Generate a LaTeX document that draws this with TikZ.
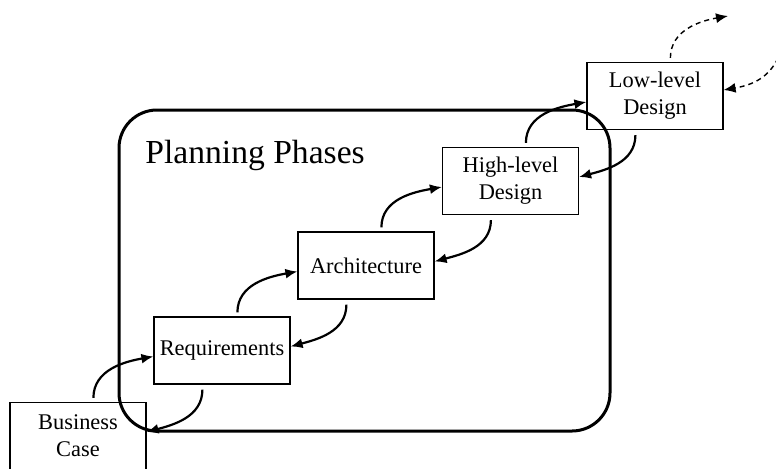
\documentclass[tikz,border=0pt]{standalone}
\usepackage{fontspec}
\setmainfont{Liberation Serif}
\usetikzlibrary{arrows.meta}

\begin{document}
\begin{tikzpicture}[x=0.5pt, y=-0.5pt,
    phase/.style={draw, line width=0.6pt, minimum width=68pt, minimum height=33.5pt,
      inner sep=0pt, align=center, font=\fontsize{11.2}{13.5}\selectfont},
    link/.style={->, line width=1.1pt},
    future/.style={->, line width=0.7pt, dash pattern=on 2.5pt off 2pt},
    >={Latex[length=6pt, width=5pt]}]
  \useasboundingbox (0,0) rectangle (776,468);

  % Planning frame
  \draw[line width=1.5pt, rounded corners=19pt] (119,110) rectangle (610,431);
  \node[anchor=base west, inner sep=0pt, font=\fontsize{16.8}{20}\selectfont] (title) at (145,163) {Planning Phases};

  % Phase boxes
  \node[phase] (bc) at (78,436) {Business\\Case};
  \node[phase] (req) at (222,350.5) {Requirements};
  \node[phase] (arch) at (366,265.5) {Architecture};
  \node[phase] (hld) at (510.5,181) {High-level\\Design};
  \node[phase] (lld) at (655,96) {Low-level\\Design};

  % Forward arrows
  \draw[link] ([xshift=42pt,yshift=2pt]bc.north west) to[out=90,in=190] ([yshift=-3pt]req.west);
  \draw[link] ([xshift=42pt,yshift=2pt]req.north west) to[out=90,in=190] ([yshift=-3pt]arch.west);
  \draw[link] ([xshift=42pt,yshift=2pt]arch.north west) to[out=90,in=190] ([yshift=-3pt]hld.west);
  \draw[link] ([xshift=42pt,yshift=2pt]hld.north west) to[out=90,in=190] ([yshift=-3pt]lld.west);

  % Backward arrows
  \draw[link] ([xshift=24.5pt,yshift=-2.5pt]req.south west) to[out=-90,in=15] ([yshift=2pt]bc.east);
  \draw[link] ([xshift=24.5pt,yshift=-2.5pt]arch.south west) to[out=-90,in=15] ([yshift=2pt]req.east);
  \draw[link] ([xshift=24.5pt,yshift=-2.5pt]hld.south west) to[out=-90,in=15] ([yshift=2pt]arch.east);
  \draw[link] ([xshift=24.5pt,yshift=-2.5pt]lld.south west) to[out=-90,in=15] ([yshift=2pt]hld.east);

  % Dashed arrows to later phases
  \coordinate (next) at (728,16);
  \coordinate (prev) at (778,58);
  \draw[future] ([xshift=42pt,yshift=2pt]lld.north west) to[out=90,in=190] (next);
  \draw[future] (prev) to[out=-115,in=10] ([yshift=3pt]lld.east);
\end{tikzpicture}
\end{document}
